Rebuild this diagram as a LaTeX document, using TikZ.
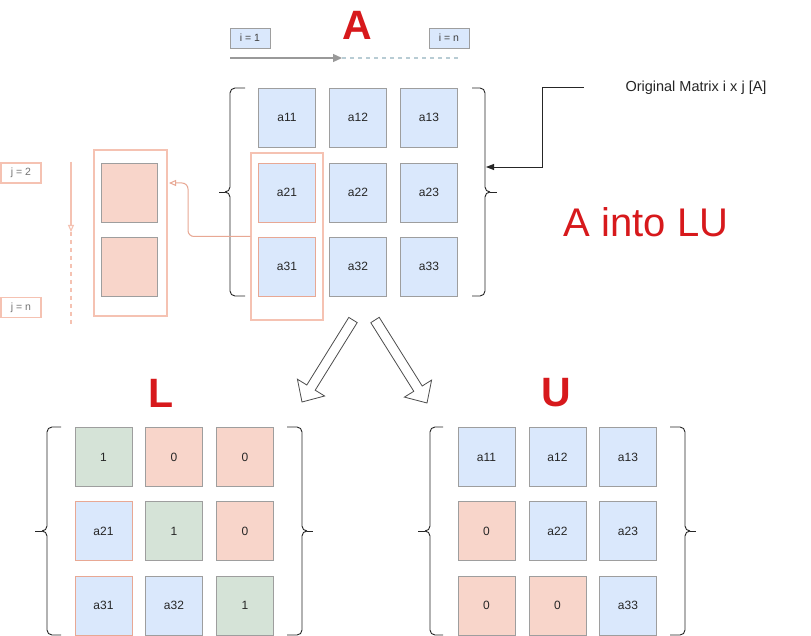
\documentclass[tikz,border=0pt]{standalone}
\usepackage{fontspec}
\setmainfont{Liberation Sans}
\usetikzlibrary{arrows.meta}
\definecolor{cblue}{HTML}{DAE8FC}
\definecolor{cpink}{HTML}{F8D5CA}
\definecolor{cgreen}{HTML}{D5E3D7}
\definecolor{cborder}{HTML}{9E9E9E}
\definecolor{csalmon}{HTML}{F5C2B2}
\definecolor{credb}{HTML}{E8A894}
\definecolor{ctitle}{HTML}{D7191C}
\definecolor{cdash}{HTML}{B8CCD4}
\tikzset{
  cell/.style={draw=cborder, line width=0.8pt, minimum width=57pt, minimum height=59pt, inner sep=0pt, font=\fontsize{12}{13}\selectfont, text=black!85},
  bluecell/.style={cell, fill=cblue},
  pinkcell/.style={cell, fill=cpink},
  greencell/.style={cell, fill=cgreen},
  redbd/.style={draw=credb},
  grpbox/.style={draw=csalmon, line width=1.3pt, inner sep=0pt},
  tagbox/.style={draw=cborder, fill=cblue, line width=0.8pt, minimum width=40pt, minimum height=20pt, inner sep=0pt, font=\fontsize{10.5}{11}\selectfont, text=black!75},
  jtag/.style={draw=csalmon, line width=1.1pt, minimum width=40pt, minimum height=20pt, inner sep=0pt, font=\fontsize{10.5}{11}\selectfont, text=black!55},
  bigtitle/.style={text=ctitle, font=\fontsize{41}{44}\selectfont\bfseries, inner sep=0pt},
  brace/.style={draw=black!85, line width=0.9pt, rounded corners=5pt},
  blockarrow/.style={draw=black!70, fill=white, line width=0.8pt, line join=miter},
}
\begin{document}
\begin{tikzpicture}[x=1pt, y=-1pt]
\useasboundingbox (0,0) rectangle (811,636);
\fill[white] (0,0) rectangle (811,636);

% ---- titles
\node[bigtitle] (tA) at (357,25) {A};
\node[bigtitle] (tL) at (161,393) {L};
\node[bigtitle] (tU) at (556,393) {U};
\node[text=ctitle, font=\fontsize{40}{44}\selectfont, inner sep=0pt] (tLU) at (646,222) {A into LU};

% ---- i tags and arrow
\node[tagbox] (i1) at (250,38) {i = 1};
\node[tagbox] (in) at (449,38) {i = n};
\coordinate (iS) at (230,58);
\coordinate (iM) at (342,58);
\coordinate (iE) at (458,58);
\draw[black!40, line width=1.2pt, -{Triangle[length=9pt,width=8pt]}] (iS) -- (iM);
\draw[cdash, line width=1.2pt, dash pattern=on 4pt off 4pt] (iM) -- (iE);

% ---- matrix A
\node[bluecell] (a11) at (287,117.5) {a11};
\node[bluecell] (a12) at (358,117.5) {a12};
\node[bluecell] (a13) at (429,117.5) {a13};
\node[bluecell, redbd] (a21) at (287,192.5) {a21};
\node[bluecell] (a22) at (358,192.5) {a22};
\node[bluecell] (a23) at (429,192.5) {a23};
\node[bluecell, redbd] (a31) at (287,266.5) {a31};
\node[bluecell] (a32) at (358,266.5) {a32};
\node[bluecell] (a33) at (429,266.5) {a33};
\node[grpbox, minimum width=72pt, minimum height=167pt] (colgrp) at (287,236.5) {};

% braces of A
\draw[brace] (245,88) -- (230,88) -- (230,192) -- (225,192);
\draw[brace] (245,296) -- (230,296) -- (230,192) -- (225,192);
\draw[black!85, line width=0.9pt] (225,192) -- (219,192);
\draw[brace] (472,88) -- (485,88) -- (485,192) -- (490,192);
\draw[brace] (472,296) -- (485,296) -- (485,192) -- (490,192);
\draw[black!85, line width=0.9pt] (490,192) -- (497,192);

% original matrix label
\node[minimum width=224pt, inner sep=0pt, font=\fontsize{14.5}{16}\selectfont, text=black!85] (orig) at (696,87.5) {Original Matrix i x j [A]};
\coordinate (abr) at (486,167);
\draw[black!85, line width=0.9pt, -{Triangle[length=8pt,width=6pt]}] (orig.west) -| (542,167) -- (abr);

% ---- left column extraction
\node[grpbox, minimum width=73pt, minimum height=166pt] (lbox) at (130.5,233) {};
\node[pinkcell, minimum width=56pt] (p1) at (129,192.5) {};
\node[pinkcell, minimum width=56pt] (p2) at (129,267) {};
\coordinate (lin) at (169,183);
\draw[credb, line width=1pt, rounded corners=6pt, -{Triangle[open,length=7pt,width=6pt]}] (colgrp.west) -| (188,183) -- (lin);

\node[jtag] (j2) at (21,173) {j = 2};
\node[jtag] (jn) at (21,307.5) {j = n};
\coordinate (jS) at (71,162);
\coordinate (jM) at (71,232);
\coordinate (jE) at (71,327);
\draw[csalmon, line width=1.1pt, -{Triangle[open,length=7pt,width=6pt]}] (jS) -- (jM);
\draw[csalmon, line width=1.1pt, dash pattern=on 4pt off 4pt] (jM) -- (jE);

% ---- block arrows
\draw[blockarrow] (348.8,317.4) -- (306.8,385.0) -- (297.4,379.2) -- (302,402) -- (324.6,396.0) -- (315.2,390.2) -- (357.2,322.6) -- cycle;
\draw[blockarrow] (370.8,322.7) -- (413.8,391.3) -- (404.4,397.1) -- (427,403) -- (431.6,380.1) -- (422.2,386.0) -- (379.2,317.3) -- cycle;

% ---- matrix L
\node[greencell] (l11) at (103.5,457) {1};
\node[pinkcell] (l12) at (174,457) {0};
\node[pinkcell] (l13) at (245,457) {0};
\node[bluecell, redbd] (l21) at (103.5,531) {a21};
\node[greencell] (l22) at (174,531) {1};
\node[pinkcell] (l23) at (245,531) {0};
\node[bluecell, redbd] (l31) at (103.5,605.5) {a31};
\node[bluecell] (l32) at (174,605.5) {a32};
\node[greencell] (l33) at (245,605.5) {1};

\draw[brace] (61,427) -- (47,427) -- (47,531) -- (42,531);
\draw[brace] (61,635) -- (47,635) -- (47,531) -- (42,531);
\draw[black!85, line width=0.9pt] (42,531) -- (35,531);
\draw[brace] (287,427) -- (302,427) -- (302,531) -- (307,531);
\draw[brace] (287,635) -- (302,635) -- (302,531) -- (307,531);
\draw[black!85, line width=0.9pt] (307,531) -- (313,531);

% ---- matrix U
\node[bluecell] (u11) at (486.5,457) {a11};
\node[bluecell] (u12) at (557.5,457) {a12};
\node[bluecell] (u13) at (628,457) {a13};
\node[pinkcell] (u21) at (486.5,531) {0};
\node[bluecell] (u22) at (557.5,531) {a22};
\node[bluecell] (u23) at (628,531) {a23};
\node[pinkcell] (u31) at (486.5,605.5) {0};
\node[pinkcell] (u32) at (557.5,605.5) {0};
\node[bluecell] (u33) at (628,605.5) {a33};

\draw[brace] (443,427) -- (430,427) -- (430,531) -- (425,531);
\draw[brace] (443,635) -- (430,635) -- (430,531) -- (425,531);
\draw[black!85, line width=0.9pt] (425,531) -- (418,531);
\draw[brace] (670,427) -- (685,427) -- (685,531) -- (690,531);
\draw[brace] (670,635) -- (685,635) -- (685,531) -- (690,531);
\draw[black!85, line width=0.9pt] (690,531) -- (696,531);
\end{tikzpicture}
\end{document}
